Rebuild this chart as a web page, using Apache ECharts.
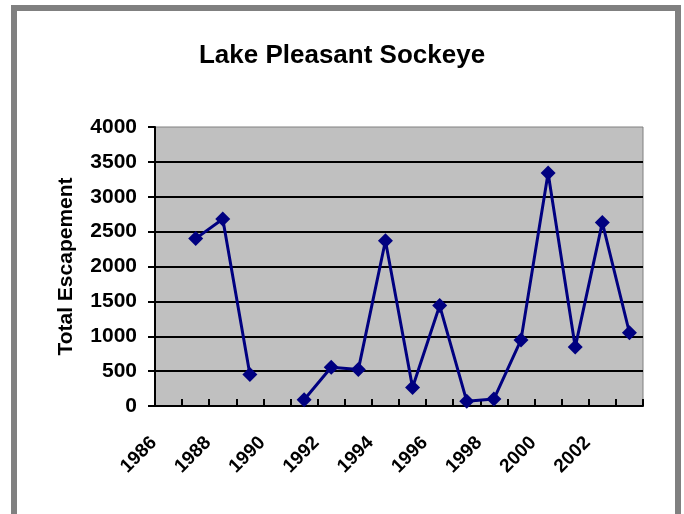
<!DOCTYPE html>
<html>
<head>
<meta charset="utf-8">
<script src="https://cdn.jsdelivr.net/npm/echarts@6/dist/echarts.min.js"></script>
<style>
html,body{margin:0;padding:0;background:#fff;}
#chart{width:684px;height:514px;}
</style>
</head>
<body>
<div id="chart"></div>
<script>
var years = ['1986','1987','1988','1989','1990','1991','1992','1993','1994','1995','1996','1997','1998','1999','2000','2001','2002','2003'];
var escapement = [null, 2400, 2680, 450, null, 90, 555, 522, 2370, 265, 1440, 67, 100, 948, 3340, 845, 2630, 1050];
var yTicks = [0, 500, 1000, 1500, 2000, 2500, 3000, 3500, 4000];

var chart = echarts.init(document.getElementById('chart'), null, {renderer: 'canvas'});
var font = 'Liberation Sans, Arial, sans-serif';
var splitColors = yTicks.map(function (v, i) { return i === yTicks.length - 1 ? 'rgba(0,0,0,0)' : '#000'; });

chart.setOption({
  animation: false,
  backgroundColor: '#fff',
  graphic: [{
    type: 'rect',
    shape: {x: 14, y: 8, width: 664, height: 530},
    style: {fill: 'none', stroke: '#808080', lineWidth: 6},
    silent: true
  }],
  title: {
    text: 'Lake Pleasant Sockeye',
    left: 'center',
    top: 38,
    textStyle: {fontFamily: font, fontWeight: 'bold', fontSize: 26, color: '#000'}
  },
  grid: {
    left: 155, right: 41, top: 127, bottom: 108,
    show: true, backgroundColor: '#c0c0c0', borderColor: '#808080', borderWidth: 1
  },
  xAxis: {
    type: 'category',
    data: years,
    boundaryGap: true,
    axisLine: {lineStyle: {color: '#000', width: 2}},
    axisTick: {show: true, inside: true, length: 7, interval: 0, lineStyle: {color: '#000', width: 2}},
    axisLabel: {
      interval: 1, rotate: 45, margin: 19,
      padding: [0, 21, 0, 0],
      fontFamily: font, fontWeight: 'bold', fontSize: 19, color: '#000'
    },
    splitLine: {show: false}
  },
  yAxis: {
    type: 'value',
    min: 0, max: 4000, interval: 500,
    name: 'Total Escapement',
    nameLocation: 'middle',
    nameGap: 78,
    nameTextStyle: {fontFamily: font, fontWeight: 'bold', fontSize: 21, color: '#000'},
    axisLine: {show: true, lineStyle: {color: '#000', width: 2}},
    axisTick: {show: true, inside: false, length: 7, lineStyle: {color: '#000', width: 2}},
    axisLabel: {
      margin: 18, fontFamily: font, fontWeight: 'bold', fontSize: 21, color: '#000',
      formatter: function (v) { return String(v); }
    },
    splitLine: {show: true, lineStyle: {color: splitColors, width: 2}}
  },
  series: [{
    type: 'line',
    data: escapement,
    connectNulls: false,
    symbol: 'diamond',
    symbolSize: 15,
    lineStyle: {color: '#000080', width: 3},
    itemStyle: {color: '#000080'}
  }]
});
</script>
</body>
</html>
